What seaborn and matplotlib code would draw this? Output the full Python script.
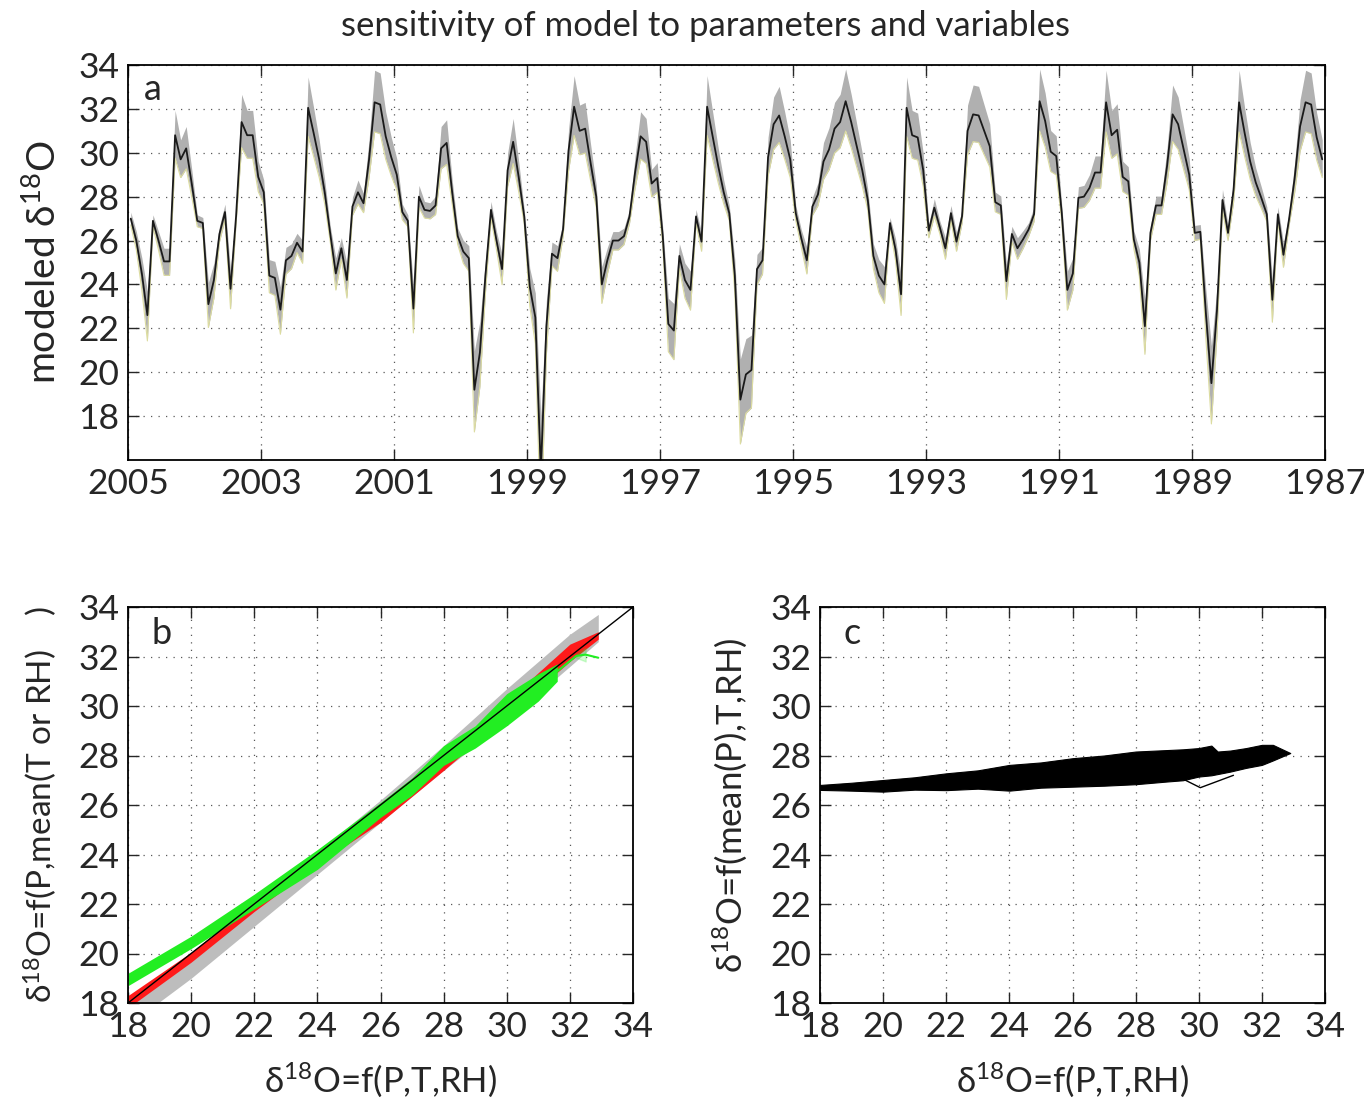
import numpy as np
import pandas as pd
import matplotlib
matplotlib.use("Agg")
import matplotlib.pyplot as plt
import seaborn as sns

# modeled d18O, one value per month, from early 2005 going back to 1987
d18o = [
    27.0, 26.0, 24.5, 22.6, 26.9, 26.0, 25.05, 25.05, 30.8, 29.7, 30.2, 28.6,
    26.9, 26.8, 23.1, 24.2, 26.3, 27.3, 23.8, 27.1, 31.4, 30.8, 30.8, 28.9,
    28.2, 24.4, 24.3, 22.85, 25.1, 25.3, 25.9, 25.5, 32.05, 30.9, 29.7, 28.2,
    26.3, 24.5, 25.65, 24.2, 27.55, 28.2, 27.7, 29.7, 32.3, 32.2, 30.75, 29.8,
    29.0, 27.3, 26.9, 22.9, 28.0, 27.4, 27.35, 27.6, 30.2, 30.45, 28.2, 26.2,
    25.5, 25.2, 19.2, 20.9, 24.4, 27.4, 26.0, 24.7, 29.2, 30.5, 28.9, 27.1,
    23.9, 22.5, 15.5, 22.1, 25.4, 25.2, 26.5, 30.1, 32.1, 31.0, 31.1, 29.5,
    28.0, 24.0, 25.1, 26.0, 26.0, 26.2, 27.1, 29.1, 30.75, 30.5, 28.6, 28.85,
    26.2, 22.2, 21.9, 25.3, 24.2, 23.75, 27.1, 25.95, 32.1, 30.75, 29.4, 28.2,
    27.25, 24.4, 18.75, 19.9, 20.1, 24.7, 25.1, 29.8, 31.3, 31.7, 30.75, 29.7,
    27.25, 26.1, 25.1, 27.55, 28.1, 29.6, 30.15, 31.1, 31.4, 32.35, 31.4, 30.3,
    29.2, 27.85, 25.3, 24.4, 24.0, 26.8, 25.6, 23.55, 32.05, 30.8, 30.7, 29.2,
    26.45, 27.5, 26.6, 25.65, 27.25, 25.95, 27.1, 31.0, 31.75, 31.7, 31.0, 30.3,
    27.75, 27.6, 24.15, 26.3, 25.65, 26.05, 26.5, 27.2, 32.35, 31.45, 30.05, 29.85,
    27.25, 23.75, 24.5, 27.95, 28.0, 28.4, 29.1, 29.1, 32.3, 30.8, 31.05, 28.9,
    28.7, 26.05, 25.0, 22.1, 26.35, 27.6, 27.6, 29.4, 31.75, 31.3, 30.15, 29.0,
    26.35, 26.4, 22.7, 19.5, 22.8, 27.85, 26.35, 28.3, 32.3, 30.9, 29.6, 28.65,
    27.95, 27.2, 23.3, 27.2, 25.35, 26.95, 28.8, 31.2, 32.3, 32.2, 30.7, 29.7,
]
start_year = 2005
# spread of the parameter runs around the pivot value
pivot = 26.8
gain_hi = 1.22
gain_lo = 0.80
min_spread = 0.25

# panel b: envelopes of the three variants (x = full model)
gray_x = [18.0, 20, 22, 24, 26, 28, 30, 32, 32.9]
gray_lo = [17.1, 19.0, 21.1, 23.2, 25.3, 27.4, 29.4, 31.6, 32.6]
gray_hi = [17.9, 20.0, 22.0, 24.1, 26.2, 28.4, 30.7, 32.9, 33.7]
red_x = [18.0, 20, 22, 24, 26, 28, 30, 32, 32.9]
red_lo = [17.8, 19.65, 21.7, 23.6, 25.3, 27.4, 29.6, 31.8, 32.7]
red_hi = [18.3, 20.05, 22.1, 24.0, 25.75, 27.85, 30.2, 32.5, 33.0]
green_x = [18.0, 20, 22, 24, 26, 27, 28, 29, 30, 31, 31.6]
green_lo = [18.7, 20.2, 21.8, 23.4, 25.5, 26.4, 27.6, 28.3, 29.2, 30.2, 31.0]
green_hi = [19.2, 20.7, 22.4, 24.2, 26.1, 27.1, 28.4, 29.2, 30.5, 31.3, 31.7]
green_tail_x = [31.6, 32.2, 32.5, 32.9, 32.5, 32.2]
green_tail_y = [31.4, 31.95, 32.35, 31.95, 31.8, 32.1]
one_to_one = [18, 34]

# panel c: envelope of the mean(P) run
blob_x = [18, 19, 20, 21, 22, 23, 24, 25, 26, 27, 28, 29, 29.5, 30, 30.4, 30.6, 31, 31.5, 32, 32.35, 32.9]
blob_hi = [26.81, 26.9, 27.01, 27.12, 27.28, 27.4, 27.62, 27.72, 27.89, 28.0, 28.16, 28.22, 28.25, 28.3, 28.4,
           28.16, 28.2, 28.3, 28.43, 28.43, 28.1]
blob_lo = [26.61, 26.58, 26.54, 26.62, 26.6, 26.66, 26.58, 26.7, 26.74, 26.78, 26.84, 26.95, 27.0, 27.15, 27.2,
           27.25, 27.35, 27.5, 27.62, 27.8, 28.1]
loop_x = [29.5, 30.05, 31.1]
loop_y = [27.05, 26.7, 27.2]

sns.set_style("ticks")
plt.rcParams["font.family"] = ["Lato", "DejaVu Sans"]
plt.rcParams["mathtext.fontset"] = "dejavusans"
plt.rcParams["mathtext.default"] = "regular"

fig = plt.figure(figsize=(13.64, 11.02), dpi=100)
W, H = 1364, 1102
ax_a = fig.add_axes([128 / W, 1 - 460 / H, 1197 / W, 395 / H])
ax_b = fig.add_axes([128 / W, 1 - 1003 / H, 505 / W, 396 / H])
ax_c = fig.add_axes([820 / W, 1 - 1003 / H, 505 / W, 396 / H])

# --- panel a ---
vals = np.array(d18o)
years = start_year - (np.arange(len(vals)) + 0.5) / 12
dev = vals - pivot
upper = np.maximum(pivot + dev * gain_hi, pivot + dev * gain_lo) + min_spread
lower = np.minimum(pivot + dev * gain_hi, pivot + dev * gain_lo) - min_spread
ax_a.fill_between(years, lower, upper, color="#b0b0b0", lw=0)
ax_a.plot(years, lower, color="#dcdca0", lw=0.8)
df = pd.DataFrame({"year": years, "d18O": vals})
sns.lineplot(data=df, x="year", y="d18O", sort=False, color="#1a1a1a", lw=1.3, ax=ax_a)
ax_a.set_xlim(2005, 1987)
ax_a.set_ylim(16, 34)
ax_a.set_xticks(np.arange(1987, 2006, 2))
ax_a.set_yticks(np.arange(18, 35, 2))
ax_a.set_xlabel("")
ax_a.set_ylabel(r"modeled $\delta^{18}$O", fontsize=28)
ax_a.yaxis.set_label_coords(-0.055, 0.5)
ax_a.text(0.021, 0.937, "a", transform=ax_a.transAxes, fontsize=26, ha="center", va="center")

# --- panel b ---
ax_b.fill_between(gray_x, gray_lo, gray_hi, color="#bdbdbd", lw=0)
ax_b.fill_between(red_x, red_lo, red_hi, color="#ff1a1a", lw=0)
ax_b.fill_between(green_x, green_lo, green_hi, color="#22ee22", lw=0)
sns.lineplot(x=green_tail_x, y=green_tail_y, sort=False, color="#22ee22", lw=1.5, ax=ax_b)
sns.lineplot(x=one_to_one, y=one_to_one, color="black", lw=1.0, ax=ax_b)
ax_b.set_ylabel(r"$\delta^{18}$O=f(P,mean(T or RH)    )", fontsize=24)
ax_b.yaxis.set_label_coords(-0.137, 0.5)
ax_b.text(0.067, 0.932, "b", transform=ax_b.transAxes, fontsize=26, ha="center", va="center")

# --- panel c ---
ax_c.fill_between(blob_x, blob_lo, blob_hi, color="black", lw=0.8, edgecolor="black")
sns.lineplot(x=loop_x, y=loop_y, sort=False, color="black", lw=1.0, ax=ax_c)
ax_c.set_ylabel(r"$\delta^{18}$O=f(mean(P),T,RH)", fontsize=25)
ax_c.yaxis.set_label_coords(-0.141, 0.5)
ax_c.text(0.063, 0.932, "c", transform=ax_c.transAxes, fontsize=26, ha="center", va="center")

for ax in (ax_b, ax_c):
    ax.set_xlim(18, 34)
    ax.set_ylim(18, 34)
    ax.set_xticks(np.arange(18, 35, 2))
    ax.set_yticks(np.arange(18, 35, 2))
    ax.set_xlabel(r"$\delta^{18}$O=f(P,T,RH)", fontsize=25)
    ax.xaxis.set_label_coords(0.5, -0.145)

for ax in (ax_a, ax_b, ax_c):
    ax.grid(True, linestyle=(0, (1, 5)), color="0.35", lw=0.9)
    ax.tick_params(direction="in", length=8, width=1, top=True, right=True,
                   labelsize=25.5, pad=6)
    for s in ax.spines.values():
        s.set_visible(True)
        s.set_linewidth(1.3)
        s.set_color("black")

fig.text(0.517, 0.976, "sensitivity of model to parameters and variables",
         fontsize=25, ha="center", va="center")

fig.savefig("out.png", dpi=100)
